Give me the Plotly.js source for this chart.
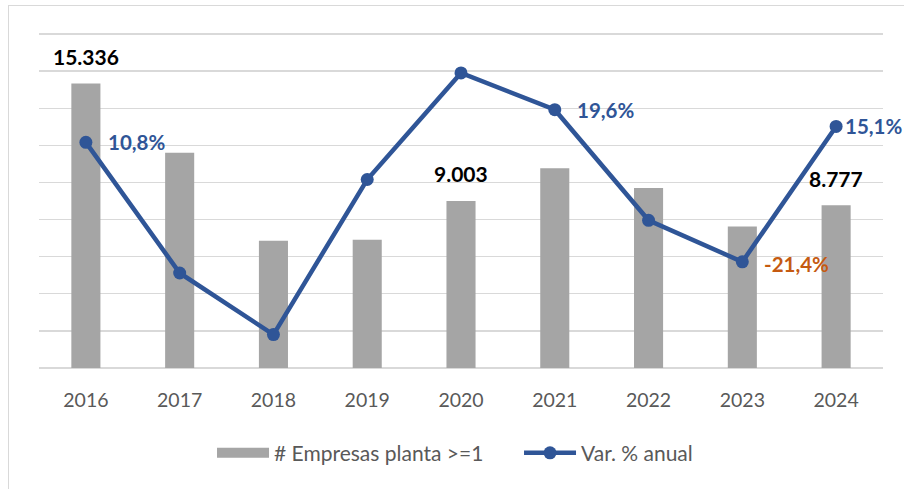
<!DOCTYPE html>
<html>
<head>
<meta charset="utf-8">
<script src="https://cdn.plot.ly/plotly-3.0.1.min.js"></script>
<style>
  body { margin: 0; background: #fff; overflow: hidden; }
  #chart { width: 904px; height: 489px; }
  #frame {
    position: absolute; left: 8px; top: 5px; width: 1000px; height: 1000px;
    border: 1px solid #d9d9d9; pointer-events: none;
  }
</style>
</head>
<body>
<div id="chart"></div>
<div id="frame"></div>
<script>
let years = [2016, 2017, 2018, 2019, 2020, 2021, 2022, 2023, 2024];
let empresas = [15336, 11600, 6860, 6910, 9003, 10768, 9702, 7626, 8777];
let variacion = [10.8, -24.4, -41.0, 0.8, 29.5, 19.6, -10.2, -21.4, 15.1];
let gridVals = [0, 2000, 4000, 6000, 8000, 10000, 12000, 14000, 16000, 18000];

// which points get a label
let barLabels = { 2016: '15.336', 2020: '9.003', 2024: '8.777' };
let lineLabels = { 2016: '10,8%', 2021: '19,6%', 2023: '-21,4%', 2024: '15,1%' };

let fontFam = 'Lato, "Open Sans", sans-serif';
let blue = '#2f5597';
let gray = '#a5a5a5';

let data = [
    {
        x: years,
        y: empresas,
        type: 'bar',
        name: '# Empresas planta >=1',
        marker: { color: gray },
        width: 0.31,
        showlegend: false,
        hoverinfo: 'skip'
    },
    // legend entry only: excel draws the bar key as a wide flat block
    {
        x: [null],
        y: [null],
        type: 'scatter',
        mode: 'lines',
        name: '# Empresas planta >=1',
        line: { color: gray, width: 13 },
        hoverinfo: 'skip'
    },
    {
        x: years,
        y: variacion,
        yaxis: 'y2',
        type: 'scatter',
        mode: 'lines+markers',
        name: 'Var. % anual',
        line: { color: blue, width: 4.5 },
        marker: { color: blue, size: 13 },
        hoverinfo: 'skip'
    }
];

let annotations = [];
years.forEach((yr, i) => {
    if (barLabels[yr]) {
        annotations.push({
            x: yr, y: empresas[i], xref: 'x', yref: 'y',
            text: '<b>' + barLabels[yr] + '</b>',
            showarrow: false, yanchor: 'middle', yshift: 27,
            font: { family: fontFam, size: 21, color: '#000' }
        });
    }
    if (lineLabels[yr]) {
        annotations.push({
            x: yr, y: variacion[i], xref: 'x', yref: 'y2',
            text: '<b>' + lineLabels[yr] + '</b>',
            showarrow: false, xanchor: 'left', yanchor: 'middle',
            xshift: yr === 2024 ? 7 : 20, yshift: yr === 2023 ? -2 : 0,
            font: { family: fontFam, size: 20.5, color: lineLabels[yr].startsWith('-') ? '#c55a11' : blue }
        });
    }
});

// a little headroom above 18.000 so the top gridline gets drawn
let yTop = 18216;
let y2Top = -50 + 90 * yTop / 18000;

let layout = {
    width: 904,
    height: 489,
    margin: { l: 39, r: 21, t: 30, b: 121 },
    paper_bgcolor: '#fff',
    plot_bgcolor: '#fff',
    font: { family: fontFam, color: '#595959' },
    showlegend: true,
    legend: {
        orientation: 'h', x: 0.205, xanchor: 'left', y: -0.252, yanchor: 'middle',
        font: { family: fontFam, size: 21, color: '#595959' },
        itemwidth: 52,
        entrywidth: 240
    },
    xaxis: {
        range: [years[0] - 0.5, years[years.length - 1] + 0.5],
        tickvals: years,
        ticktext: years.map(String),
        showgrid: false,
        showline: false,
        zeroline: false,
        tickfont: { family: fontFam, size: 19.5, color: '#595959' },
        ticks: '',
        ticklabelstandoff: 18,
        fixedrange: true
    },
    yaxis: {
        range: [0, yTop],
        tickvals: gridVals,
        showticklabels: false,
        showgrid: true,
        gridcolor: '#d9d9d9',
        gridwidth: 1.3,
        zeroline: true,
        zerolinecolor: '#d9d9d9',
        zerolinewidth: 1.3,
        fixedrange: true
    },
    yaxis2: {
        range: [-50, y2Top],
        overlaying: 'y',
        side: 'right',
        showgrid: false,
        zeroline: false,
        showticklabels: false,
        fixedrange: true
    },
    annotations: annotations
};

Plotly.newPlot('chart', data, layout, { displayModeBar: false, staticPlot: true });
</script>
</body>
</html>
